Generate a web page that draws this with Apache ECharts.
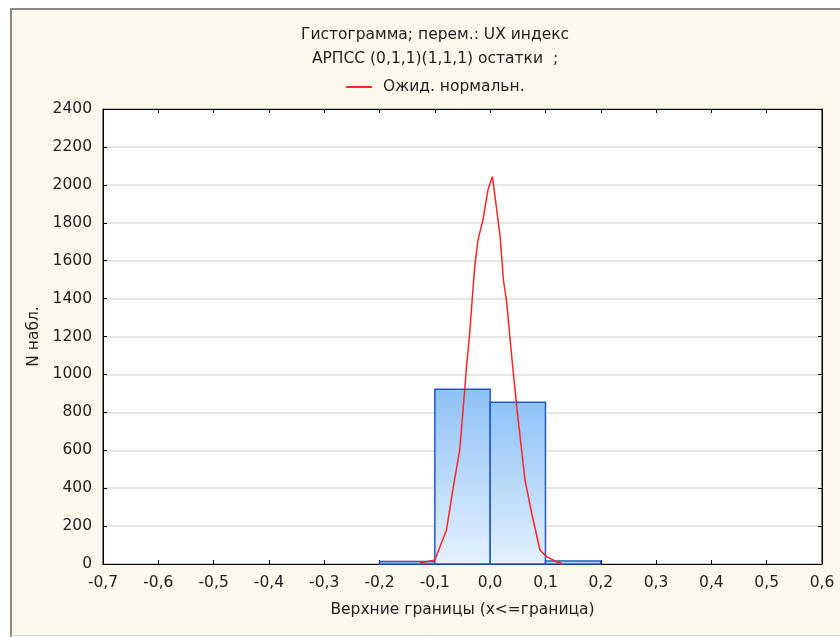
<!DOCTYPE html>
<html>
<head>
<meta charset="utf-8">
<script src="https://cdn.jsdelivr.net/npm/echarts@6/dist/echarts.min.js"></script>
<style>
  html, body { margin: 0; padding: 0; background: #ffffff; }
  #chart { width: 840px; height: 637px; }
</style>
</head>
<body>
<div id="chart"></div>
<script>
// Histogram bins (lower / upper bounds) and counts
const binLower = [-0.2, -0.1, 0.0, 0.1];
const binUpper = [-0.1, 0.0, 0.1, 0.2];
const binCounts = [13, 922, 853, 16];

// Expected normal curve
const curveX = [-0.127, -0.100, -0.079, -0.067, -0.055, -0.046, -0.043, -0.037, -0.028, -0.022, -0.013, -0.004, 0.004, 0.012, 0.018, 0.024, 0.030, 0.039, 0.048, 0.063, 0.075, 0.090, 0.102, 0.120, 0.131];
const curveY = [5, 21, 179, 400, 601, 918, 1034, 1217, 1568, 1709, 1815, 1973, 2043, 1867, 1726, 1498, 1377, 1093, 830, 443, 269, 74, 39, 12, 0];

// Axis ranges
const xMin = -0.7, xMax = 0.6, xStep = 0.1;
const yMin = 0, yMax = 2400, yStep = 200;

const FONT = '"DejaVu Sans", Verdana, sans-serif';
const FS = 15.5;
const TXT = '#1e1e1e';

const chart = echarts.init(document.getElementById('chart'));

const fmtX = v => (Math.round(v * 10) / 10).toFixed(1).replace('.', ',');
const fmtY = v => String(Math.round(v));

const binData = binLower.map((lo, i) => [lo, binUpper[i], binCounts[i]]);
const curveData = curveX.map((x, i) => [x, curveY[i]]);

const barFill = new echarts.graphic.LinearGradient(0, 0, 0, 1, [
  { offset: 0, color: '#8ec2f8' },
  { offset: 1, color: '#e4f1fd' }
]);

const frameAxis = {
  axisLine: { show: true, onZero: false, lineStyle: { color: '#000', width: 1 } },
  axisTick: { show: true, inside: true, length: 4, lineStyle: { color: '#000' } }
};

chart.setOption({
  animation: false,
  backgroundColor: '#ffffff',
  textStyle: { fontFamily: FONT },
  graphic: [
    { type: 'rect', z: -10, shape: { x: 11, y: 8, width: 840, height: 627 },
      style: { fill: '#fdf8ec' } },
    { type: 'line', z: -9, shape: { x1: 11, y1: 8, x2: 11, y2: 637 },
      style: { stroke: '#8a8a82', lineWidth: 2 } },
    { type: 'line', z: -9, shape: { x1: 11, y1: 9, x2: 840, y2: 9 },
      style: { stroke: '#8a8a82', lineWidth: 2 } },
    { type: 'line', z: -9, shape: { x1: 11, y1: 635.5, x2: 840, y2: 635.5 },
      style: { stroke: '#d6d6d0', lineWidth: 1 } }
  ],
  title: {
    text: 'Гистограмма; перем.: UX индекс\nАРПСС (0,1,1)(1,1,1) остатки  ;',
    left: 430,
    top: 18,
    textAlign: 'center',
    textStyle: { fontFamily: FONT, fontSize: FS, fontWeight: 'normal', color: TXT, lineHeight: 24 }
  },
  legend: {
    left: 341,
    top: 74,
    itemWidth: 26,
    itemHeight: 2,
    data: [{ name: 'Ожид. нормальн.', icon: 'rect' }],
    textStyle: { fontFamily: FONT, fontSize: FS, color: TXT, padding: [0, 0, 0, 6] }
  },
  grid: {
    left: 103, right: 18, top: 109, bottom: 73,
    show: true, backgroundColor: '#ffffff', borderColor: '#000000', borderWidth: 1
  },
  xAxis: [
    Object.assign({
      type: 'value', min: xMin, max: xMax, interval: xStep, position: 'bottom',
      name: 'Верхние границы (x<=граница)', nameLocation: 'middle', nameGap: 38,
      nameTextStyle: { fontFamily: FONT, fontSize: FS, color: TXT },
      axisLabel: { formatter: fmtX, fontFamily: FONT, fontSize: FS, color: TXT, margin: 11 },
      splitLine: { show: false }
    }, frameAxis),
    Object.assign({
      type: 'value', min: xMin, max: xMax, interval: xStep, position: 'top',
      axisLabel: { show: false },
      splitLine: { show: false }
    }, frameAxis)
  ],
  yAxis: [
    Object.assign({
      type: 'value', min: yMin, max: yMax, interval: yStep, position: 'left',
      name: 'N набл.', nameLocation: 'middle', nameGap: 60, nameRotate: 90,
      nameTextStyle: { fontFamily: FONT, fontSize: FS, color: TXT },
      axisLabel: { formatter: fmtY, fontFamily: FONT, fontSize: FS, color: TXT, margin: 11 },
      splitLine: { show: true, lineStyle: { color: '#dcdcdc', width: 1.5 } }
    }, frameAxis),
    Object.assign({
      type: 'value', min: yMin, max: yMax, interval: yStep, position: 'right',
      axisLabel: { show: false },
      splitLine: { show: false }
    }, frameAxis)
  ],
  series: [
    {
      name: 'bins',
      type: 'custom',
      xAxisIndex: 0, yAxisIndex: 0,
      z: 2,
      encode: { x: [0, 1], y: 2 },
      data: binData,
      renderItem: function (params, api) {
        const p0 = api.coord([api.value(0), 0]);
        const p1 = api.coord([api.value(1), api.value(2)]);
        return {
          type: 'rect',
          shape: { x: p0[0], y: p1[1], width: p1[0] - p0[0], height: p0[1] - p1[1] },
          style: { fill: barFill, stroke: '#2358cc', lineWidth: 1.5 }
        };
      }
    },
    {
      name: 'Ожид. нормальн.',
      type: 'line',
      xAxisIndex: 0, yAxisIndex: 0,
      z: 5,
      data: curveData,
      showSymbol: false,
      symbol: 'none',
      color: '#ff2424',
      lineStyle: { color: '#ff2424', width: 1.5 }
    }
  ]
});
</script>
</body>
</html>
